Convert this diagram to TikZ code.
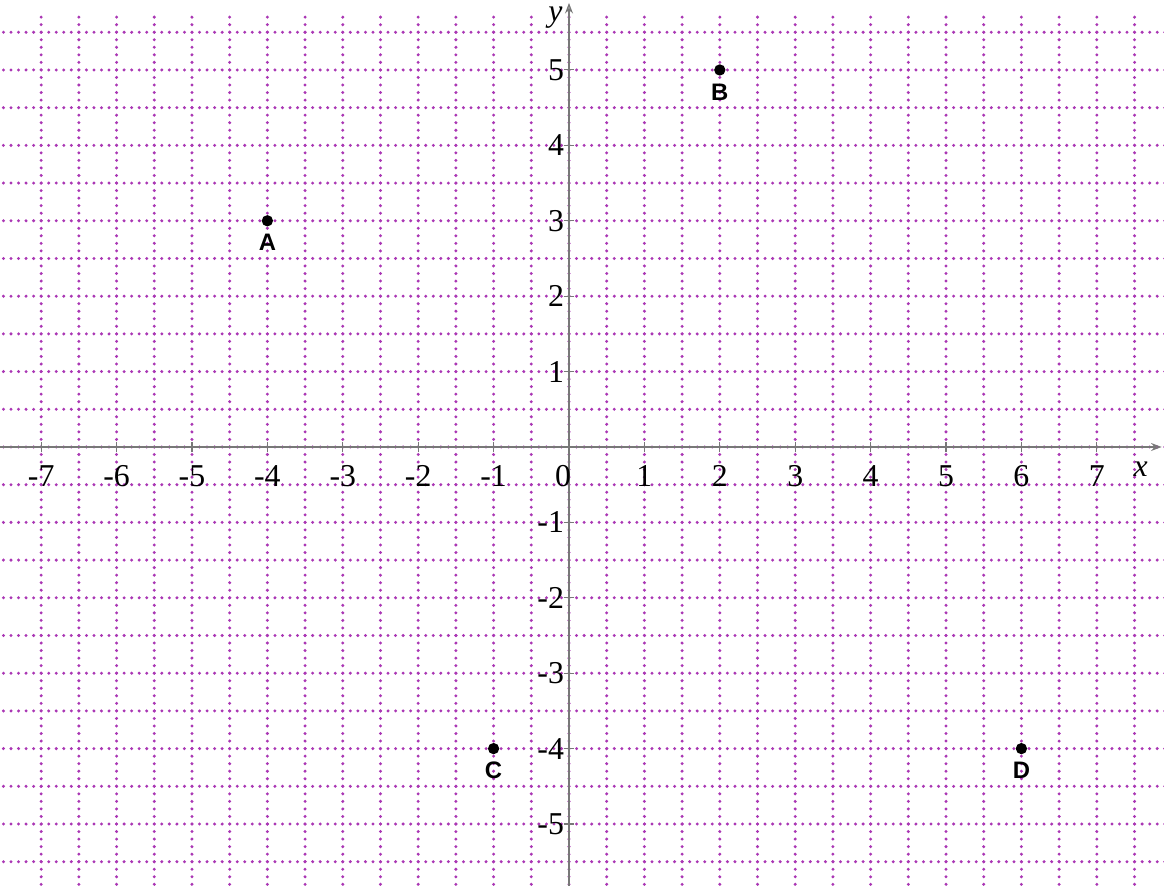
\documentclass[tikz,border=0pt]{standalone}
\usepackage{fontspec}
\setmainfont{Liberation Serif}
\newfontfamily\lblfont{Liberation Sans}
\usetikzlibrary{arrows.meta}
\definecolor{gridpink}{RGB}{170,55,180}
\definecolor{axisgray}{RGB}{120,120,120}
\begin{document}
\begin{tikzpicture}[x=1cm,y=1cm,
    gridline/.style={draw=gridpink, line width=1.25pt, line cap=round, dash pattern=on 0pt off 0.1cm},
    axisline/.style={draw=axisgray, line width=0.5pt, -{Stealth[length=4pt,width=3pt,open]}},
    ticknum/.style={font=\fontsize{12}{14}\selectfont, inner sep=0pt},
    pt/.style={circle, fill=black, inner sep=0pt, minimum size=0.15cm},
    ptlabel/.style={font=\lblfont\bfseries\fontsize{9}{10}\selectfont, inner sep=0pt}]
    \useasboundingbox (-7.546,-5.809) rectangle (7.891,5.928);
    \clip (-7.546,-5.809) rectangle (7.891,5.928);
    % dotted grid, half units
    \foreach \y in {-5.5,-5,...,5.5}{
        \draw[gridline] (-7.5,\y)--(8,\y);
    }
    \foreach \x in {-7,-6.5,...,7.5}{
        \draw[gridline] (\x,-6)--(\x,5.8);
    }
    % axes
    \draw[axisline] (-7.6,0)--(7.86,0);
    \draw[axisline] (0,-5.9)--(0,5.89);
    \node[ticknum, font=\itshape\fontsize{12}{14}\selectfont] (xlab) at (7.58,-0.29) {x};
    \node[ticknum, font=\itshape\fontsize{12}{14}\selectfont] (ylab) at (-0.18,5.7) {y};
    % ticks and numbers
    \foreach \x in {-7,...,-1,1,2,...,7}{
        \draw[axisgray, line width=0.4pt] (\x,-0.07)--(\x,0.07);
        \node[ticknum] (xt\x) at (\x,-0.39) {\x};
    }
    \node[ticknum] (xt0) at (-0.08,-0.39) {0};
    \foreach \y in {-5,...,-1,1,2,...,5}{
        \draw[axisgray, line width=0.4pt] (-0.07,\y)--(0.07,\y);
        \node[ticknum, anchor=east] (yt\y) at (-0.06,\y) {\y};
    }
    % the four points
    \foreach \name/\px/\py in {A/-4/3, B/2/5, C/-1/-4, D/6/-4}{
        \node[pt] (\name) at (\px,\py) {};
        \node[ptlabel] (lbl\name) at (\px,\py-0.29) {\name};
    }
\end{tikzpicture}
\end{document}
